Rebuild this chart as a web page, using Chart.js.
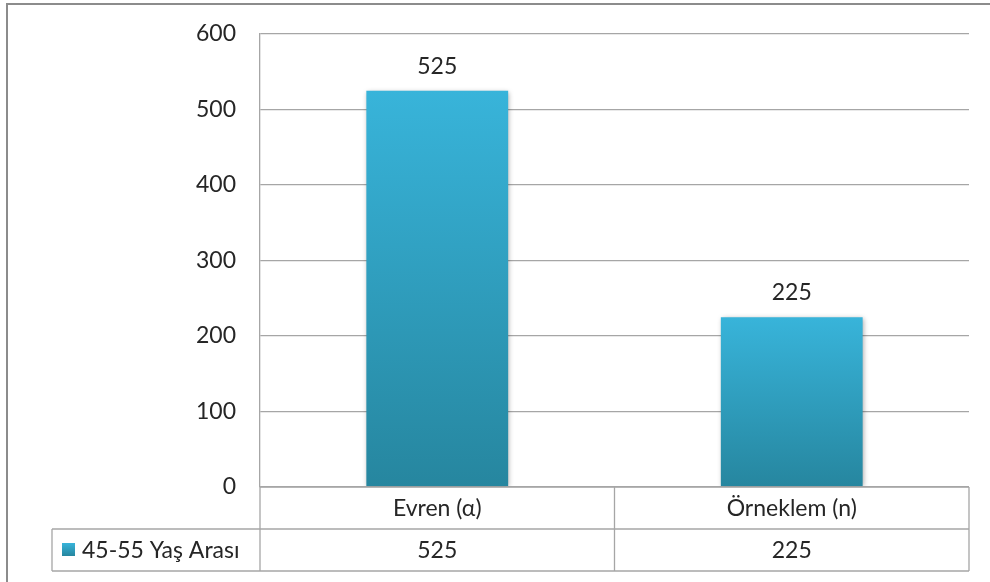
<!DOCTYPE html>
<html>
<head>
<meta charset="utf-8">
<script src="https://cdn.jsdelivr.net/npm/chart.js@4.4.0/dist/chart.umd.min.js"></script>
<style>
  html, body { margin: 0; padding: 0; background: #fff; }
  #wrap { width: 990px; height: 582px; position: relative; }
</style>
</head>
<body>
<div id="wrap"><canvas id="myChart" width="990" height="582"></canvas></div>
<script>
// data
const categories = ["Evren (α)", "Örneklem (n)"];
const seriesName = "45-55 Yaş Arası";
const seriesValues = [525, 225];
const yTicks = [0, 100, 200, 300, 400, 500, 600];

const FONT = "Lato, 'Open Sans', sans-serif";
const FONT_SIZE = 23;
const TEXT = "#262626";
const LINE = "#a6a6a6";

function barGradient(ctx, top, bottom) {
    const g = ctx.createLinearGradient(0, top, 0, bottom);
    g.addColorStop(0, "#38b4da");
    g.addColorStop(1, "#26869f");
    return g;
}

// border round the whole picture, data labels and the data table
const tablePlugin = {
    id: "tablePlugin",
    beforeDatasetsDraw(chart) {
        const c = chart.ctx;
        c.save();
        c.shadowColor = "rgba(0,0,0,0.35)";
        c.shadowBlur = 5;
        c.shadowOffsetX = 1;
        c.shadowOffsetY = 1;
    },
    afterDatasetsDraw(chart) {
        chart.ctx.restore();
    },
    afterDraw(chart) {
        const c = chart.ctx;
        const area = chart.chartArea;
        const x = chart.scales.x;
        const y = chart.scales.y;
        const rowH = 42;
        const row1 = area.bottom + rowH;
        const row2 = row1 + rowH;
        const legendLeft = 52;

        c.save();
        // outer frame
        c.strokeStyle = "#8c8c8c";
        c.lineWidth = 2;
        c.beginPath();
        c.moveTo(7, 582);
        c.lineTo(7, 4);
        c.lineTo(990, 4);
        c.stroke();

        // data labels
        c.fillStyle = TEXT;
        c.font = FONT_SIZE + "px " + FONT;
        c.textAlign = "center";
        c.textBaseline = "bottom";
        seriesValues.forEach((v, i) => {
            c.fillText(String(v), x.getPixelForValue(i), y.getPixelForValue(v) - 13);
        });

        // table lines
        c.strokeStyle = LINE;
        c.lineWidth = 1.3;
        c.beginPath();
        c.moveTo(area.left, area.bottom);
        c.lineTo(area.right, area.bottom);
        c.moveTo(legendLeft, row1);
        c.lineTo(area.right, row1);
        c.moveTo(legendLeft, row2);
        c.lineTo(area.right, row2);
        c.moveTo(legendLeft, row1);
        c.lineTo(legendLeft, row2);
        c.moveTo(area.left, area.bottom);
        c.lineTo(area.left, row2);
        c.moveTo(area.right, area.bottom);
        c.lineTo(area.right, row2);
        for (let i = 1; i < categories.length; i++) {
            const sx = (x.getPixelForValue(i - 1) + x.getPixelForValue(i)) / 2;
            c.moveTo(sx, area.bottom);
            c.lineTo(sx, row2);
        }
        c.stroke();

        // table texts
        c.textBaseline = "middle";
        categories.forEach((cat, i) => {
            const cx = x.getPixelForValue(i);
            c.fillText(cat, cx, area.bottom + rowH / 2 + 1);
            c.fillText(String(seriesValues[i]), cx, row1 + rowH / 2 + 1);
        });

        // legend key
        const keyTop = row1 + 14;
        c.fillStyle = barGradient(c, keyTop, keyTop + 13);
        c.fillRect(62, keyTop, 13, 13);
        c.fillStyle = TEXT;
        c.textAlign = "left";
        c.fillText(seriesName, 82, row1 + rowH / 2 + 1);
        c.restore();
    }
};

const ctx = document.getElementById("myChart").getContext("2d");

const myChart = new Chart(ctx, {
    type: "bar",
    data: {
        labels: categories,
        datasets: [
            {
                label: seriesName,
                data: seriesValues,
                backgroundColor: function(context) {
                    const chart = context.chart;
                    if (!chart.chartArea) return "#30a0c0";
                    const yScale = chart.scales.y;
                    const v = context.raw || 0;
                    return barGradient(chart.ctx, yScale.getPixelForValue(v), yScale.getPixelForValue(0));
                },
                borderWidth: 0,
                barPercentage: 0.4,
                categoryPercentage: 1
            }
        ]
    },
    options: {
        responsive: false,
        animation: false,
        devicePixelRatio: 1,
        layout: {
            padding: { left: 0, top: 34, right: 21, bottom: 95 }
        },
        plugins: {
            legend: { display: false },
            tooltip: { enabled: false }
        },
        scales: {
            x: {
                display: false
            },
            y: {
                min: 0,
                max: 600,
                afterBuildTicks(scale) {
                    scale.ticks = yTicks.map(v => ({ value: v }));
                },
                afterFit(scale) {
                    scale.width = 260;
                    scale.paddingTop = 0;
                    scale.paddingBottom = 0;
                },
                grid: {
                    color: LINE,
                    lineWidth: 1.3,
                    drawTicks: false
                },
                border: {
                    display: true,
                    color: LINE,
                    width: 1.3
                },
                ticks: {
                    padding: 24,
                    color: TEXT,
                    font: { family: FONT, size: FONT_SIZE }
                }
            }
        }
    },
    plugins: [tablePlugin]
});
</script>
</body>
</html>
